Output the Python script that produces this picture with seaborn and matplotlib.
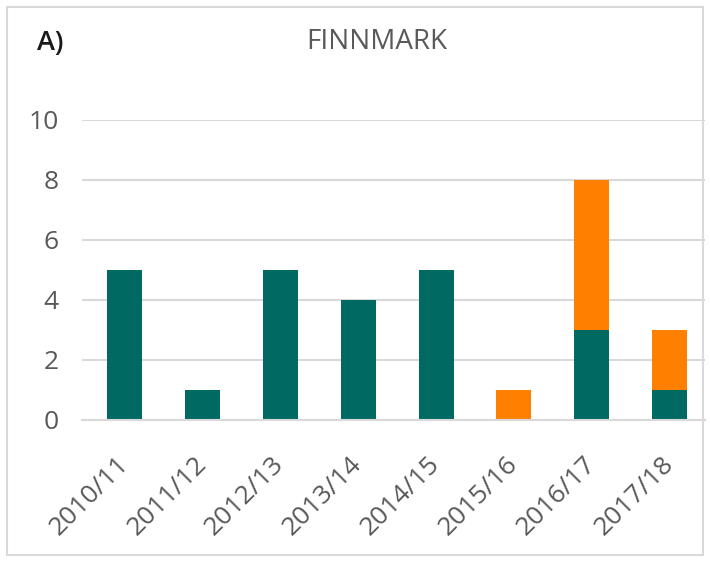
import matplotlib
matplotlib.use("Agg")
import matplotlib.pyplot as plt
import pandas as pd
import seaborn as sns
from matplotlib.patches import Rectangle

seasons = ["2010/11", "2011/12", "2012/13", "2013/14",
           "2014/15", "2015/16", "2016/17", "2017/18"]
teal_vals = [5, 1, 5, 4, 5, 0, 3, 1]
orange_vals = [0, 0, 0, 0, 0, 1, 5, 2]

TEAL = "#006A62"
ORANGE = "#FF7F00"
GRID = "#D9D9D9"
TXT = "#595959"

sns.set_theme(style="white")
plt.rcParams["font.family"] = ["Open Sans", "DejaVu Sans"]

df = pd.DataFrame({"season": seasons, "teal": teal_vals, "orange": orange_vals})
df["total"] = df["teal"] + df["orange"]

fig = plt.figure(figsize=(7.10, 5.62), dpi=100)
ax = fig.add_axes([0.1155, 0.2527, 0.877, 0.5338])

# stacked: draw total in orange, teal part over it
sns.barplot(data=df, x="season", y="total", color=ORANGE, width=0.45,
            saturation=1, linewidth=0, ax=ax)
sns.barplot(data=df, x="season", y="teal", color=TEAL, width=0.45,
            saturation=1, linewidth=0, ax=ax)

ax.set_ylim(0, 10)
ax.set_xlim(-0.55, 7.45)
ax.set_yticks([0, 2, 4, 6, 8, 10])
ax.yaxis.grid(True, color=GRID, linewidth=1.5)
ax.set_axisbelow(True)
for s in ["top", "right", "left"]:
    ax.spines[s].set_visible(False)
ax.spines["bottom"].set_color(GRID)
ax.spines["bottom"].set_linewidth(1.5)

ax.set_xlabel("")
ax.set_ylabel("")
ax.tick_params(axis="y", length=0, pad=17, labelsize=19, labelcolor=TXT)
ax.tick_params(axis="x", length=0, pad=29, labelsize=19, labelcolor=TXT)
plt.setp(ax.get_xticklabels(), rotation=45, ha="right",
         rotation_mode="anchor", va="center")

fig.text(0.53, 0.925, "FINNMARK", ha="center", va="center",
         fontsize=20, color=TXT)
fig.text(0.052, 0.923, "A)", ha="left", va="center", fontsize=19.5,
         color="#1a1a1a", fontweight="semibold")

fig.patches.append(Rectangle((0.01, 0.012), 0.98, 0.975, transform=fig.transFigure,
                             fill=False, edgecolor=GRID, linewidth=1.5))

fig.savefig("out.png", dpi=100)
